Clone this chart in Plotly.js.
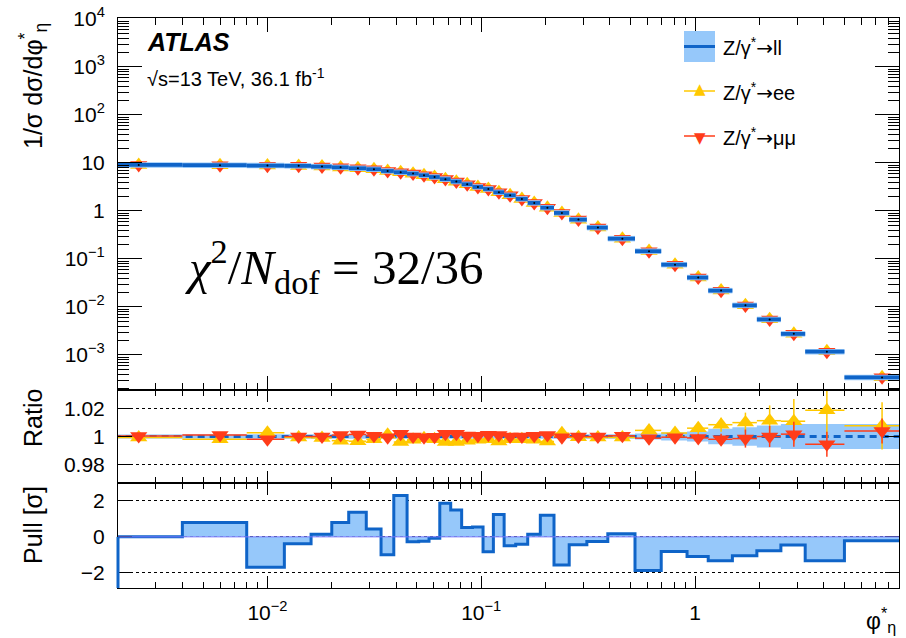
<!DOCTYPE html>
<html><head><meta charset="utf-8">
<script src="https://cdn.plot.ly/plotly-3.0.1.min.js"></script>
<style>html,body{margin:0;padding:0;background:#fff;}#chart{width:906px;height:638px;}</style>
</head><body><div id="chart"></div>
<script>
// ---------------- data ----------------
const binEdges = [0.001, 0.004, 0.008, 0.012, 0.016, 0.020, 0.024, 0.029, 0.034, 0.039, 0.045, 0.051, 0.057, 0.064, 0.072, 0.081, 0.091, 0.102, 0.114, 0.128, 0.145, 0.165, 0.189, 0.219, 0.258, 0.312, 0.391, 0.524, 0.695, 0.918, 1.153, 1.496, 1.947, 2.522, 3.277, 5.0, 10.0];
const llValues = [9.1, 9.0, 8.8, 8.7, 8.4, 8.1, 7.75, 7.4, 6.8, 6.4, 6.0, 5.55, 5.1, 4.6, 4.1, 3.6, 3.16, 2.87, 2.45, 2.12, 1.78, 1.47, 1.17, 0.91, 0.66, 0.45, 0.265, 0.145, 0.076, 0.041, 0.0219, 0.0108, 0.0055, 0.00275, 0.00117, 0.00034];
const eeRatio = [0.9993, 0.998, 1.0027, 0.9993, 0.999, 0.997, 0.9966, 0.998, 1.0012, 0.996, 0.9976, 0.9988, 0.998, 0.996, 0.996, 0.997, 0.9976, 0.998, 0.9964, 0.998, 0.998, 0.9976, 0.9964, 1.0024, 0.9995, 0.9993, 0.9993, 1.0044, 1.0025, 1.006, 1.0085, 1.010, 1.0114, 1.011, 1.019, 1.0077];
const mmRatio = [1.0003, 1.001, 0.998, 1.0, 1.0, 1.001, 1.0015, 1.0005, 0.9995, 1.002, 1.0, 0.9995, 0.9998, 1.002, 1.002, 1.0007, 1.0005, 1.0012, 1.001, 1.0, 1.0, 1.0005, 1.001, 0.9995, 1.0, 1.0, 1.0005, 0.9988, 0.9995, 0.999, 0.998, 0.9985, 1.0, 1.0017, 0.9944, 1.004];
const eeRatioErr = [0.0008, 0.0008, 0.0008, 0.0008, 0.0008, 0.0008, 0.0008, 0.0008, 0.0008, 0.0008, 0.0008, 0.0008, 0.0008, 0.0008, 0.0008, 0.0009, 0.0009, 0.0009, 0.001, 0.001, 0.001, 0.001, 0.0011, 0.0012, 0.0013, 0.0014, 0.0016, 0.002, 0.003, 0.004, 0.005, 0.0072, 0.011, 0.016, 0.02, 0.017];
const mmRatioErr = [0.0007, 0.0007, 0.0007, 0.0007, 0.0007, 0.0007, 0.0007, 0.0007, 0.0007, 0.0007, 0.0007, 0.0007, 0.0007, 0.0007, 0.0007, 0.0008, 0.0008, 0.0008, 0.0009, 0.0009, 0.0009, 0.0009, 0.001, 0.001, 0.0011, 0.0012, 0.0013, 0.0015, 0.002, 0.003, 0.004, 0.0065, 0.0076, 0.009, 0.009, 0.009];
const llRatioBand = [0.0015, 0.0015, 0.0015, 0.0015, 0.0015, 0.0015, 0.0015, 0.0015, 0.0015, 0.0015, 0.0015, 0.0015, 0.0015, 0.0015, 0.0015, 0.0015, 0.0015, 0.0015, 0.0015, 0.0015, 0.0015, 0.0015, 0.0015, 0.0015, 0.0015, 0.0015, 0.0016, 0.0022, 0.0028, 0.0036, 0.0055, 0.0066, 0.008, 0.009, 0.009, 0.009];
const pullValues = [0, 0.8, -1.7, -0.39, 0.15, 0.8, 1.37, 0.44, -1.0, 2.3, -0.27, -0.25, -0.08, 1.87, 1.5, 0.52, 0.55, -0.83, 1.24, -0.5, -0.41, 0.15, 1.2, -1.57, -0.44, -0.26, 0.17, -1.87, -0.82, -1.09, -1.33, -1.06, -0.78, -0.46, -1.33, -0.22];
const yTickVals = [1e-3, 1e-2, 1e-1, 1, 10, 100, 1e3, 1e4];
const yTickText = ['10<sup>−3</sup>', '10<sup>−2</sup>', '10<sup>−1</sup>', '1', '10', '10<sup>2</sup>', '10<sup>3</sup>', '10<sup>4</sup>'];
const xTickVals = [0.01, 0.1, 1];
const xTickText = ['10<sup>−2</sup>', '10<sup>−1</sup>', '1'];
const ratioTickVals = [0.98, 1, 1.02];
const ratioTickText = ['0.98', '1', '1.02'];
const pullTickVals = [-2, 0, 2];
const pullTickText = ['−2', '0', '2'];

// ---------------- derived ----------------
const N = llValues.length;
const lo = [], hi = [], ctr = [];
for (let i = 0; i < N; i++) { lo.push(binEdges[i]); hi.push(binEdges[i + 1]); ctr.push((binEdges[i] + binEdges[i + 1]) / 2); }
const eeValues = llValues.map((v, i) => v * eeRatio[i]);
const mmValues = llValues.map((v, i) => v * mmRatio[i]);
const errPlus = ctr.map((c, i) => hi[i] - c);
const errMinus = ctr.map((c, i) => c - lo[i]);

const segX = [], segY = [];
for (let i = 0; i < N; i++) { segX.push(lo[i], hi[i], null); segY.push(llValues[i], llValues[i], null); }

const bandX = [], bandY = [];
for (let i = 0; i < N; i++) { bandX.push(lo[i], hi[i]); bandY.push(1 + llRatioBand[i], 1 + llRatioBand[i]); }
for (let i = N - 1; i >= 0; i--) { bandX.push(hi[i], lo[i]); bandY.push(1 - llRatioBand[i], 1 - llRatioBand[i]); }

const pullX = binEdges.slice();
const pullY = pullValues.concat([pullValues[N - 1]]);

const YEL = 'rgb(255,200,0)', RED = 'rgb(255,60,25)', BLUE = 'rgb(15,100,200)', LBLUE = 'rgb(150,200,250)';
const FONT = 'Liberation Sans, Arial, Helvetica, sans-serif';

const traces = [
  // top panel
  {x: ctr, y: eeValues, xaxis: 'x3', yaxis: 'y3', mode: 'markers', type: 'scatter',
   marker: {symbol: 'triangle-up', size: 15, color: YEL}, hoverinfo: 'skip'},
  {x: ctr, y: mmValues, xaxis: 'x3', yaxis: 'y3', mode: 'markers', type: 'scatter',
   marker: {symbol: 'triangle-down', size: 15, color: RED}, hoverinfo: 'skip'},
  {x: segX, y: segY, xaxis: 'x3', yaxis: 'y3', mode: 'lines', type: 'scatter',
   line: {color: LBLUE, width: 5.5}, hoverinfo: 'skip'},
  {x: segX, y: segY, xaxis: 'x3', yaxis: 'y3', mode: 'lines', type: 'scatter',
   line: {color: BLUE, width: 3.8}, hoverinfo: 'skip'},
  {x: ctr, y: llValues, xaxis: 'x3', yaxis: 'y3', mode: 'markers', type: 'scatter',
   marker: {size: 2, color: 'black'}, hoverinfo: 'skip'},
  // ratio panel
  {x: bandX, y: bandY, xaxis: 'x2', yaxis: 'y2', mode: 'lines', type: 'scatter', fill: 'toself',
   fillcolor: LBLUE, line: {width: 0}, hoverinfo: 'skip'},
  {x: [binEdges[0], binEdges[N]], y: [1, 1], xaxis: 'x2', yaxis: 'y2', mode: 'lines', type: 'scatter',
   line: {color: BLUE, width: 3, dash: '7px,5px'}, hoverinfo: 'skip'},
  {x: ctr, y: eeRatio, xaxis: 'x2', yaxis: 'y2', mode: 'markers', type: 'scatter',
   marker: {symbol: 'triangle-up', size: 15, color: YEL},
   error_y: {type: 'data', array: eeRatioErr, color: YEL, thickness: 1.5, width: 0},
   error_x: {type: 'data', symmetric: false, array: errPlus, arrayminus: errMinus, color: YEL, thickness: 1.5, width: 0},
   hoverinfo: 'skip'},
  {x: ctr, y: mmRatio, xaxis: 'x2', yaxis: 'y2', mode: 'markers', type: 'scatter',
   marker: {symbol: 'triangle-down', size: 15, color: RED},
   error_y: {type: 'data', array: mmRatioErr, color: RED, thickness: 1.5, width: 0},
   error_x: {type: 'data', symmetric: false, array: errPlus, arrayminus: errMinus, color: RED, thickness: 1.5, width: 0},
   hoverinfo: 'skip'},
  // pull panel
  {x: pullX, y: pullY, xaxis: 'x', yaxis: 'y', mode: 'lines', type: 'scatter', fill: 'tozeroy',
   fillcolor: LBLUE, line: {color: BLUE, width: 3, shape: 'hv'}, hoverinfo: 'skip'}
];

// geometry helpers (pixel -> paper)
const ML = 118, MR = 7, MT = 18, MB = 50, W = 906, H = 638;
const PW = W - ML - MR, PH = H - MT - MB;
const px = x => (x - ML) / PW;
const py = y => 1 - (y - MT) / PH;

const xMinor = [];
[0.001, 0.01, 0.1, 1].forEach(d => { for (let k = 2; k <= 9; k++) xMinor.push(k * d); });
const yMinor = [];
[1e-4, 1e-3, 1e-2, 1e-1, 1, 10, 100, 1000].forEach(d => { for (let k = 2; k <= 9; k++) yMinor.push(k * d); });

const xRange = [Math.log10(0.002), Math.log10(9)];
const tickFont = {family: FONT, size: 21, color: 'black'};
function xAxis(showLabels, anchor, len, mlen) {
  return {type: 'log', range: xRange, anchor: anchor, domain: [0, 1],
    showline: true, linecolor: 'black', linewidth: 1, mirror: 'ticks',
    ticks: 'inside', ticklen: len, tickwidth: 1, tickcolor: 'black',
    tickmode: 'array', tickvals: xTickVals, ticktext: xTickText, showticklabels: showLabels,
    minor: {tickmode: 'array', tickvals: xMinor, ticks: 'inside', ticklen: mlen, tickcolor: 'black', showgrid: false},
    tickfont: tickFont, showgrid: false, zeroline: false, ticklabelstandoff: 6};
}

const dTop = [py(390), 1], dRatio = [py(483), py(390)], dPull = [0, py(483)];

const ARROW = '<span style="font-family:DejaVu Sans">→</span>';

const layout = {
  width: W, height: H, margin: {l: ML, r: MR, t: MT, b: MB},
  paper_bgcolor: 'white', plot_bgcolor: 'white', showlegend: false,
  font: {family: FONT, color: 'black'},
  xaxis: xAxis(true, 'y', 12, 6),
  xaxis2: Object.assign(xAxis(false, 'y2', 12, 6), {matches: 'x'}),
  xaxis3: Object.assign(xAxis(false, 'y3', 14, 7), {matches: 'x'}),
  yaxis3: {type: 'log', domain: dTop, range: [-3.73, 4.02], anchor: 'x3',
    showline: true, linecolor: 'black', linewidth: 1, mirror: 'ticks',
    ticks: 'inside', ticklen: 24, tickcolor: 'black', tickmode: 'array', tickvals: yTickVals, ticktext: yTickText,
    minor: {tickmode: 'array', tickvals: yMinor, ticks: 'inside', ticklen: 11, tickcolor: 'black', showgrid: false},
    tickfont: tickFont, showgrid: false, zeroline: false, ticklabelstandoff: 8},
  yaxis2: {domain: dRatio, range: [0.9665, 1.0335], anchor: 'x2',
    showline: true, linecolor: 'black', linewidth: 1, mirror: 'ticks',
    ticks: 'inside', ticklen: 14, tickcolor: 'black', tickmode: 'array', tickvals: ratioTickVals, ticktext: ratioTickText,
    tickfont: tickFont, showgrid: true, gridcolor: 'black', griddash: 'dot', gridwidth: 1, zeroline: false, ticklabelstandoff: 8},
  yaxis: {domain: dPull, range: [-2.85, 3.0], anchor: 'x',
    showline: true, linecolor: 'black', linewidth: 1, mirror: 'ticks',
    ticks: 'inside', ticklen: 14, tickcolor: 'black', tickmode: 'array', tickvals: pullTickVals, ticktext: pullTickText,
    tickfont: tickFont, showgrid: true, gridcolor: 'black', griddash: 'dot', gridwidth: 1, zeroline: false, ticklabelstandoff: 8},
  shapes: [
    {type: 'line', xref: 'x domain', yref: 'y', x0: 0, x1: 1, y0: 0, y1: 0, line: {color: 'rgb(120,120,255)', width: 1}, layer: 'above'},
    {type: 'line', xref: 'x domain', yref: 'y domain', x0: 0, x1: 0, y0: 0, y1: 2.85 / 5.85, line: {color: BLUE, width: 3}, layer: 'above'},
    // legend glyphs
    {type: 'rect', xref: 'paper', yref: 'paper', x0: px(684), x1: px(715), y0: py(62), y1: py(31), fillcolor: LBLUE, line: {width: 0}},
    {type: 'line', xref: 'paper', yref: 'paper', x0: px(684), x1: px(715), y0: py(46.5), y1: py(46.5), line: {color: BLUE, width: 3}},
    {type: 'line', xref: 'paper', yref: 'paper', x0: px(684), x1: px(715), y0: py(91), y1: py(91), line: {color: YEL, width: 1.5}},
    {type: 'line', xref: 'paper', yref: 'paper', x0: px(684), x1: px(715), y0: py(136), y1: py(136), line: {color: RED, width: 1.5}}
  ],
  annotations: [
    {xref: 'paper', yref: 'paper', x: px(33), y: py(86), text: '1/σ dσ/dφ<sup>*</sup><sub>η</sub>', textangle: -90,
     showarrow: false, xanchor: 'center', yanchor: 'middle', font: {family: FONT, size: 25}},
    {xref: 'paper', yref: 'paper', x: px(33), y: py(418), text: 'Ratio', textangle: -90,
     showarrow: false, xanchor: 'center', yanchor: 'middle', font: {family: FONT, size: 25}},
    {xref: 'paper', yref: 'paper', x: px(33), y: py(525), text: 'Pull [σ]', textangle: -90,
     showarrow: false, xanchor: 'center', yanchor: 'middle', font: {family: FONT, size: 25}},
    {xref: 'paper', yref: 'paper', x: px(898), y: py(620), text: 'φ<sup>*</sup><sub>η</sub>',
     showarrow: false, xanchor: 'right', yanchor: 'middle', font: {family: FONT, size: 23}},
    {xref: 'paper', yref: 'paper', x: px(145), y: py(42), text: '<b><i>ATLAS</i></b>',
     showarrow: false, xanchor: 'left', yanchor: 'middle', font: {family: FONT, size: 25}},
    {xref: 'paper', yref: 'paper', x: px(145), y: py(77), text: '√s=13 TeV, 36.1 fb<sup>-1</sup>',
     showarrow: false, xanchor: 'left', yanchor: 'middle', font: {family: FONT, size: 20}},
    {xref: 'paper', yref: 'paper', x: px(183), y: py(266), text: '<i>χ</i><sup>2</sup>/<i>N</i><sub>dof</sub> = 32/36',
     showarrow: false, xanchor: 'left', yanchor: 'middle', font: {family: 'Liberation Serif, Times New Roman, serif', size: 49}},
    // legend texts and markers
    {xref: 'paper', yref: 'paper', x: px(721), y: py(47), text: 'Z/γ<sup>*</sup>' + ARROW + 'll',
     showarrow: false, xanchor: 'left', yanchor: 'middle', font: {family: FONT, size: 20}},
    {xref: 'paper', yref: 'paper', x: px(721), y: py(92), text: 'Z/γ<sup>*</sup>' + ARROW + 'ee',
     showarrow: false, xanchor: 'left', yanchor: 'middle', font: {family: FONT, size: 20}},
    {xref: 'paper', yref: 'paper', x: px(721), y: py(137), text: 'Z/γ<sup>*</sup>' + ARROW + 'μμ',
     showarrow: false, xanchor: 'left', yanchor: 'middle', font: {family: FONT, size: 20}},
    {xref: 'paper', yref: 'paper', x: px(699.5), y: py(89), text: '▲',
     showarrow: false, xanchor: 'center', yanchor: 'middle', font: {family: 'DejaVu Sans', size: 15, color: YEL}},
    {xref: 'paper', yref: 'paper', x: px(699.5), y: py(138), text: '▼',
     showarrow: false, xanchor: 'center', yanchor: 'middle', font: {family: 'DejaVu Sans', size: 15, color: RED}}
  ]
};

Plotly.newPlot('chart', traces, layout, {staticPlot: true, displayModeBar: false});
</script>
</body></html>
